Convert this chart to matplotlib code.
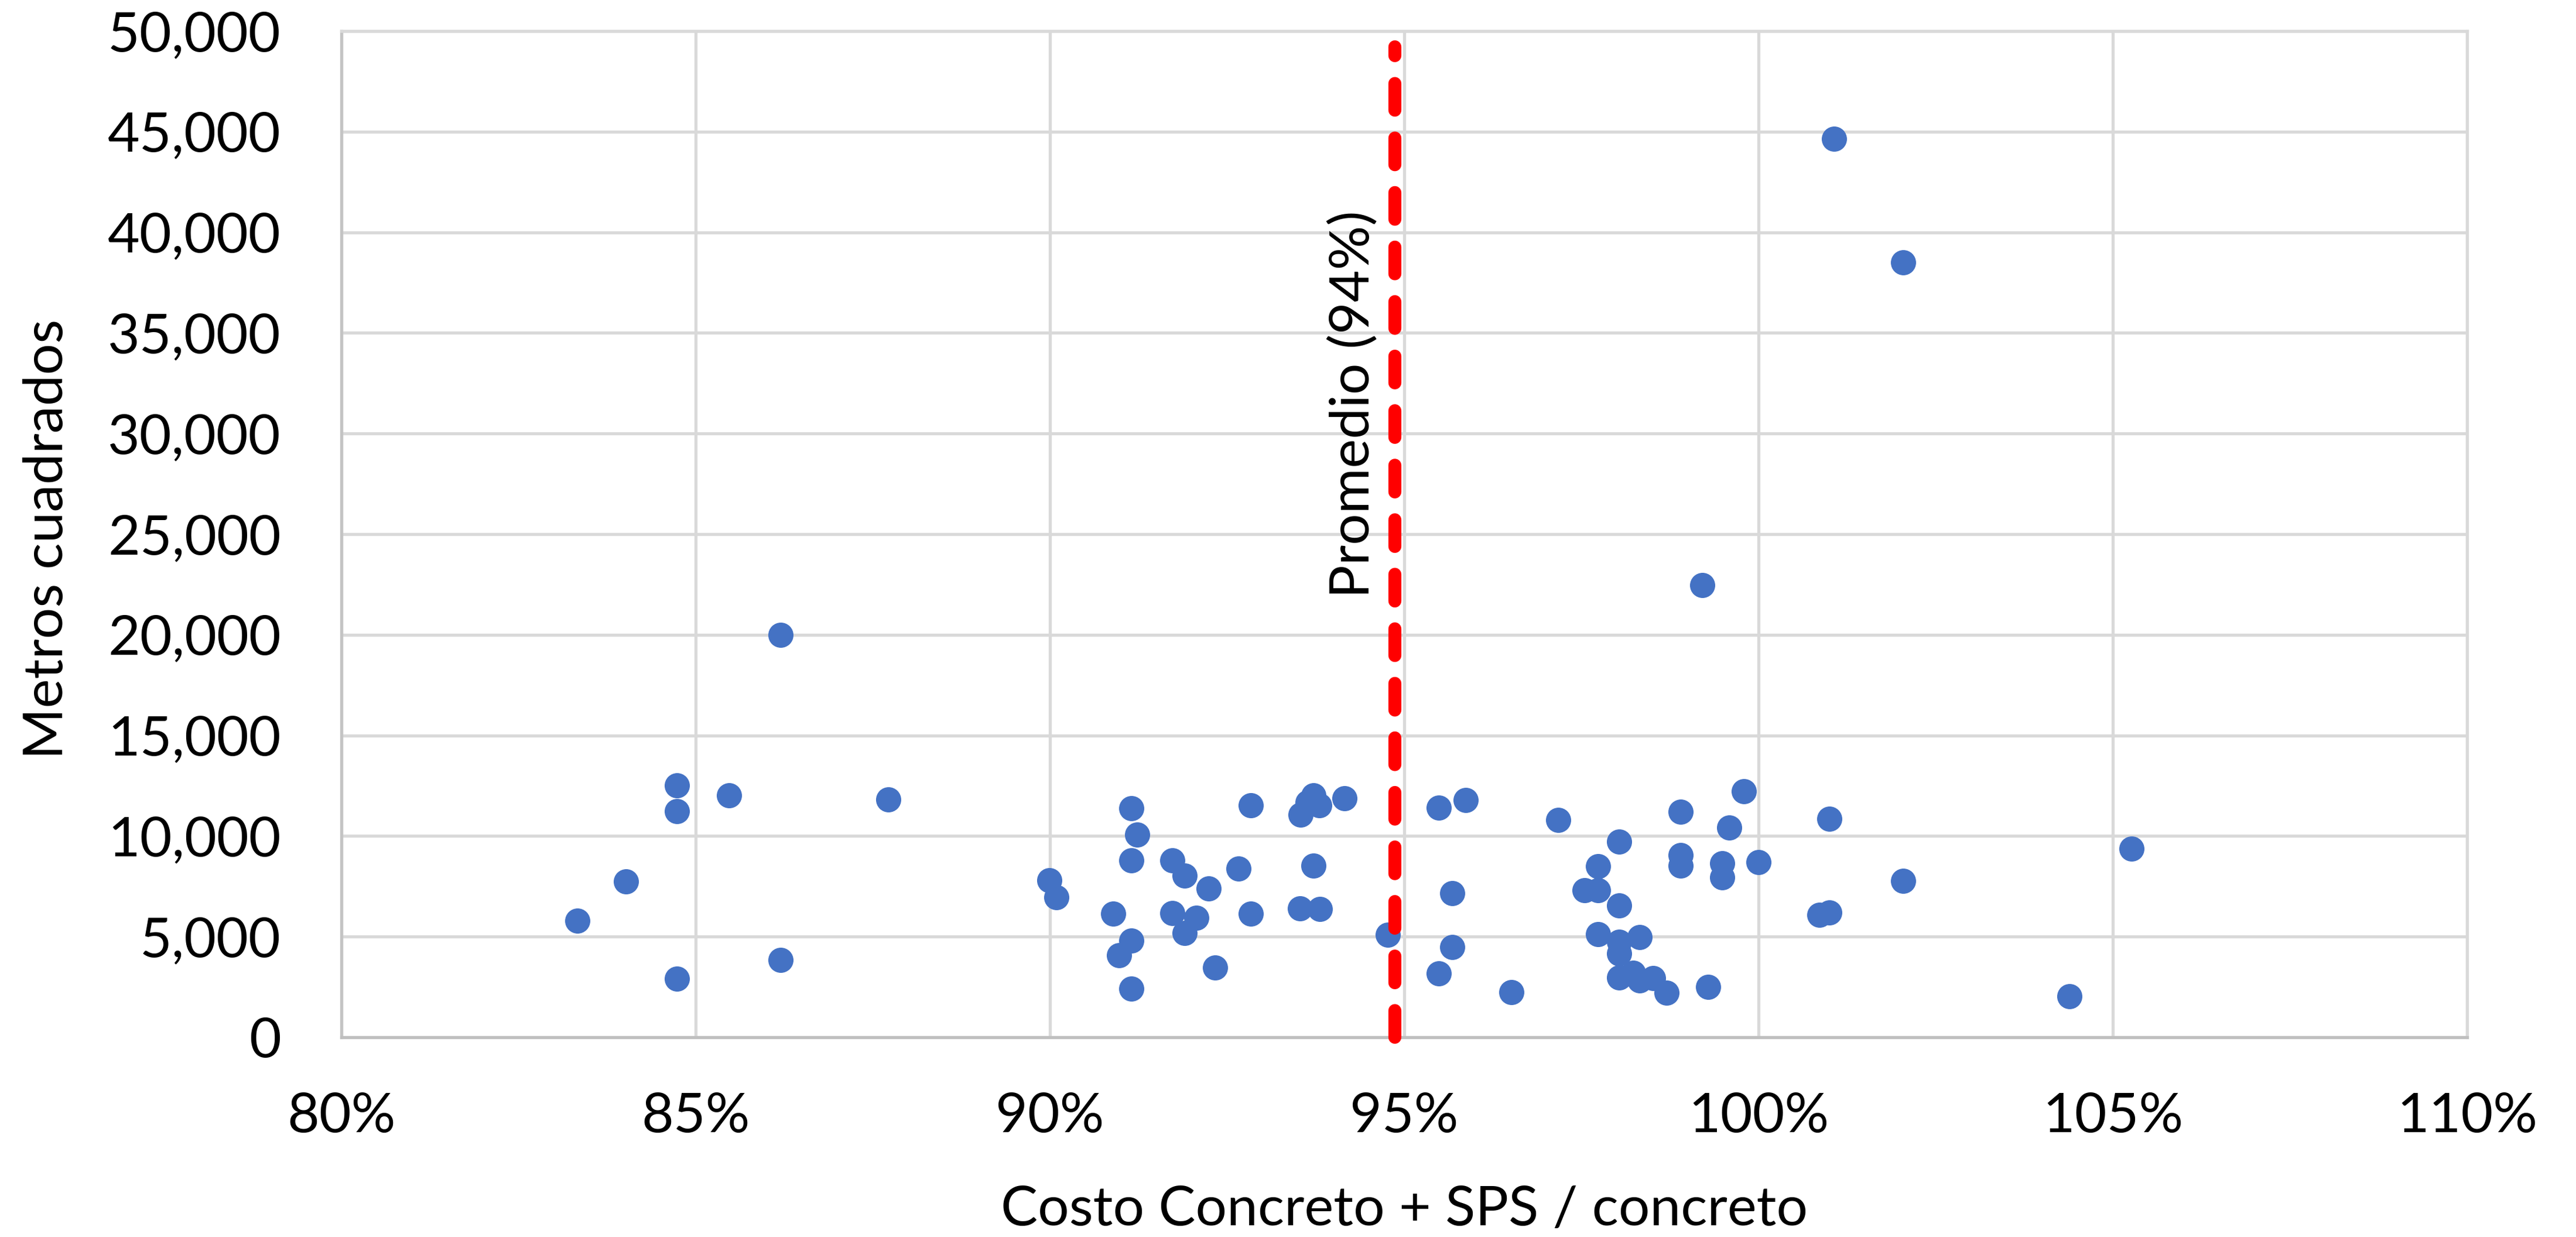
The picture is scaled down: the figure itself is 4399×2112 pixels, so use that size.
import matplotlib
matplotlib.use("Agg")
import matplotlib.pyplot as plt
from matplotlib.ticker import FuncFormatter, MultipleLocator

plt.rcParams["font.family"] = ["Lato", "DejaVu Sans"]

# Cost ratio (Concreto + SPS / concreto) and built area in m2 for each project
ratio = [
    0.8333, 0.8402, 0.8474, 0.8474, 0.8474, 0.8547, 0.8620, 0.8620, 0.8772,
    0.8999, 0.9009, 0.9089, 0.9098, 0.9115, 0.9123, 0.9115, 0.9115, 0.9115,
    0.9173, 0.9190, 0.9173, 0.9207, 0.9190, 0.9224, 0.9233, 0.9266, 0.9284,
    0.9284, 0.9354, 0.9364, 0.9372, 0.9380, 0.9416, 0.9372, 0.9353, 0.9381,
    0.9477, 0.9549, 0.9587, 0.9568, 0.9568, 0.9549, 0.9651, 0.9717, 0.9755,
    0.9774, 0.9774, 0.9803, 0.9803, 0.9774, 0.9803, 0.9803, 0.9832, 0.9803,
    0.9823, 0.9832, 0.9851, 0.9870, 0.9890, 0.9890, 0.9890, 0.9929, 0.9949,
    0.9949, 0.9959, 0.9979, 1.0000, 1.0100, 1.0086, 1.0100, 1.0204, 1.0439,
    1.0526, 1.0107, 1.0204, 0.9921,
]
area = [
    5800, 7740, 12500, 11230, 2920, 12010, 20000, 3840, 11820,
    7810, 6960, 6150, 4080, 11380, 10060, 8790, 4810, 2410,
    8790, 8030, 6160, 5950, 5170, 7380, 3450, 8390, 11520,
    6130, 11070, 11670, 12010, 11530, 11880, 8520, 6390, 6370,
    5080, 11400, 11780, 7170, 4480, 3180, 2250, 10790, 7300,
    7300, 8490, 9710, 6550, 5120, 4750, 4150, 4970, 2970,
    3190, 2830, 2930, 2210, 11200, 9060, 8540, 2490, 8630,
    7940, 10410, 12210, 8700, 10860, 6070, 6200, 7760, 2050,
    9380, 44650, 38500, 22480,
]

# Average ratio shown as a reference line
promedio = 0.9487
promedio_top = 49200

x_ticks_step = 0.05
y_ticks_step = 5000

fig = plt.figure(figsize=(21.995, 10.56), dpi=200)
ax = fig.add_axes([0.13244, 0.16146, 0.82532, 0.81345])

ax.set_xlim(0.80, 1.10)
ax.set_ylim(0, 50000)
ax.xaxis.set_major_locator(MultipleLocator(x_ticks_step))
ax.yaxis.set_major_locator(MultipleLocator(y_ticks_step))
ax.xaxis.set_major_formatter(FuncFormatter(lambda v, p: f"{v * 100:.0f}%"))
ax.yaxis.set_major_formatter(FuncFormatter(lambda v, p: f"{v:,.0f}"))

ax.grid(True, color="#D9D9D9", linewidth=1.9, zorder=0)
ax.set_axisbelow(True)
for side in ("top", "right"):
    ax.spines[side].set_color("#D9D9D9")
    ax.spines[side].set_linewidth(1.9)
ax.spines["bottom"].set_color("#BFBFBF")
ax.spines["bottom"].set_linewidth(1.9)
ax.spines["left"].set_color("#C4C4C4")
ax.spines["left"].set_linewidth(1.9)

ax.tick_params(axis="both", length=0, labelsize=34, colors="black")
ax.tick_params(axis="y", pad=37)
ax.tick_params(axis="x", pad=34)

ax.scatter(ratio, area, s=240, color="#4472C4", linewidths=0, zorder=3)

ax.plot([promedio, promedio], [0, promedio_top], color="#FF0000",
        linewidth=8, dashes=(2.05, 2.14), dash_capstyle="round",
        solid_capstyle="round", clip_on=False, zorder=4)
ax.annotate(f"Promedio ({int(promedio * 100)}%)", xy=(promedio, 31460),
            xytext=(-25.5, 0), textcoords="offset points",
            rotation=90, ha="center", va="center", fontsize=34, zorder=5)

ax.set_xlabel("Costo Concreto + SPS / concreto", fontsize=34)
ax.set_ylabel("Metros cuadrados", fontsize=34)
ax.xaxis.set_label_coords(0.5, -0.1473)
ax.yaxis.set_label_coords(-0.1266, 0.495)

fig.savefig("out.png", dpi=200, facecolor="white")
